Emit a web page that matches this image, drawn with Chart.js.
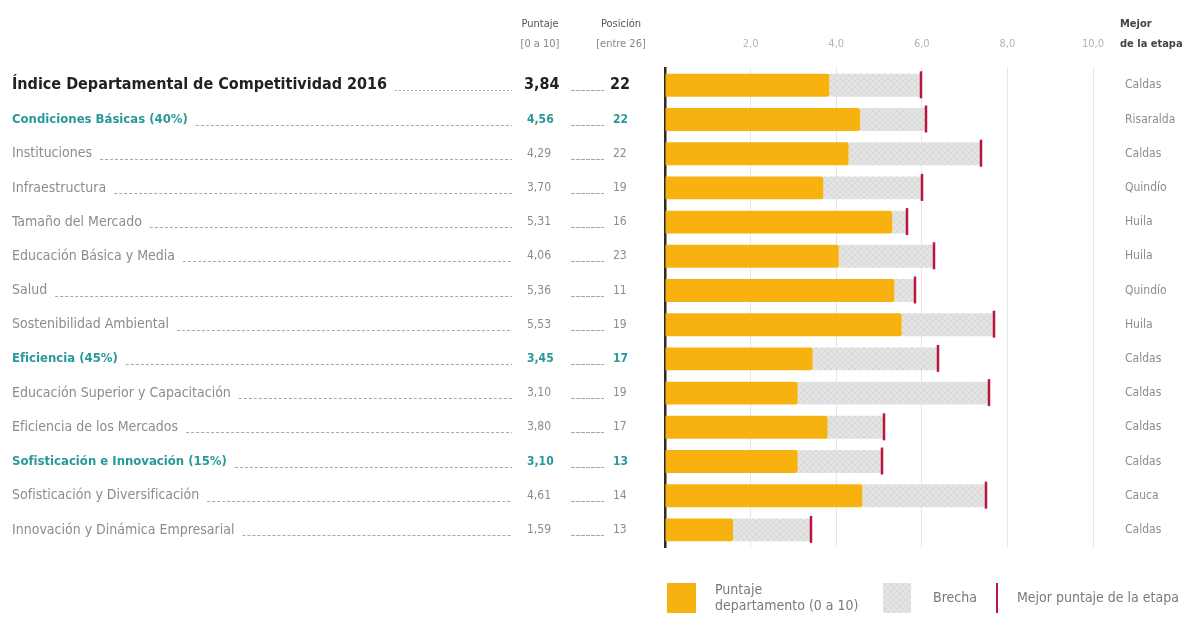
<!DOCTYPE html>
<html lang="es">
<head>
<meta charset="utf-8">
<title>Índice Departamental de Competitividad 2016</title>
<script src="https://cdn.jsdelivr.net/npm/chart.js@4/dist/chart.umd.min.js"></script>
<style>
	html, body { margin: 0; padding: 0; background: #fff; }
	#wrap { position: relative; width: 1198px; height: 619px; }
</style>
</head>
<body>
<div id="wrap"><canvas id="idc-chart"></canvas></div>
<script>
'use strict';

// Datos
const categorias = [
	'Índice Departamental de Competitividad 2016',
	'Condiciones Básicas (40%)',
	'Instituciones',
	'Infraestructura',
	'Tamaño del Mercado',
	'Educación Básica y Media',
	'Salud',
	'Sostenibilidad Ambiental',
	'Eficiencia (45%)',
	'Educación Superior y Capacitación',
	'Eficiencia de los Mercados',
	'Sofisticación e Innovación (15%)',
	'Sofisticación y Diversificación',
	'Innovación y Dinámica Empresarial'
];
// 0 = indice general, 1 = pilar, 2 = subpilar
const nivel = [0, 1, 2, 2, 2, 2, 2, 2, 1, 2, 2, 1, 2, 2];
const puntaje = [3.84, 4.56, 4.29, 3.70, 5.31, 4.06, 5.36, 5.53, 3.45, 3.10, 3.80, 3.10, 4.61, 1.59];
const posicion = [22, 22, 22, 19, 16, 23, 11, 19, 17, 19, 17, 13, 14, 13];
const mejorPuntaje = [5.98, 6.10, 7.38, 6.00, 5.65, 6.28, 5.84, 7.69, 6.38, 7.57, 5.12, 5.07, 7.50, 3.41];
const mejorDepto = ['Caldas', 'Risaralda', 'Caldas', 'Quindío', 'Huila', 'Huila', 'Quindío', 'Huila', 'Caldas', 'Caldas', 'Caldas', 'Caldas', 'Cauca', 'Caldas'];
const tickLabels = ['', '2,0', '4,0', '6,0', '8,0', '10,0'];

const FONT = '"DejaVu Sans Condensed", "Liberation Sans Narrow", "DejaVu Sans", sans-serif';
const NARANJA = '#f8b20f';
const TEAL = '#27999a';
const GRIS = '#8c8c8c';
const ROJO = '#b8163c';

const brecha = mejorPuntaje.map(function(v, i){ return +(v - puntaje[i]).toFixed(2); });

// textured grey for the gap bars
function makePattern() {
	const c = document.createElement('canvas');
	c.width = 6; c.height = 6;
	const g = c.getContext('2d');
	g.fillStyle = '#e4e4e4';
	g.fillRect(0, 0, 6, 6);
	g.strokeStyle = '#d8d8d8';
	g.lineWidth = 1;
	g.beginPath();
	g.moveTo(0, 6); g.lineTo(6, 0);
	g.moveTo(0, 0); g.lineTo(6, 6);
	g.stroke();
	return g.createPattern(c, 'repeat');
}
const patronBrecha = makePattern();

function fmt(v) { return v.toFixed(2).replace('.', ','); }

function leader(ctx, x1, x2, y, dash) {
	if (x2 <= x1) return;
	ctx.save();
	ctx.strokeStyle = '#a8a8a8';
	ctx.lineWidth = 1;
	ctx.setLineDash(dash);
	ctx.beginPath();
	ctx.moveTo(x1, y + 0.5);
	ctx.lineTo(x2, y + 0.5);
	ctx.stroke();
	ctx.restore();
}

// Text columns, markers and legend drawn around the chart area
const textosPlugin = {
	id: 'textos',
	afterDatasetsDraw: function(chart) {
		const ctx = chart.ctx;
		const x = chart.scales.x;
		const y = chart.scales.y;
		ctx.save();
		ctx.strokeStyle = ROJO;
		ctx.lineWidth = 2.5;
		mejorPuntaje.forEach(function(v, i){
			const px = Math.round(x.getPixelForValue(v));
			const py = y.getPixelForValue(i);
			ctx.beginPath();
			ctx.moveTo(px, py - 14);
			ctx.lineTo(px, py + 13);
			ctx.stroke();
		});
		ctx.restore();
	},
	afterDraw: function(chart) {
		const ctx = chart.ctx;
		const y = chart.scales.y;
		ctx.save();
		ctx.textBaseline = 'middle';

		// headers
		ctx.textAlign = 'center';
		ctx.fillStyle = '#555';
		ctx.font = '11px ' + FONT;
		ctx.fillText('Puntaje', 540, 24);
		ctx.fillText('Posición', 621, 24);
		ctx.fillStyle = '#888';
		ctx.fillText('[0 a 10]', 540, 44);
		ctx.fillText('[entre 26]', 621, 44);
		ctx.textAlign = 'left';
		ctx.fillStyle = '#444';
		ctx.font = 'bold 11px ' + FONT;
		ctx.fillText('Mejor', 1120, 24);
		ctx.fillText('de la etapa', 1120, 44);

		// rows
		categorias.forEach(function(cat, i){
			const py = y.getPixelForValue(i);
			let font, numFont, color;
			if (nivel[i] === 0) { font = numFont = 'bold 16px ' + FONT; color = '#222'; }
			else if (nivel[i] === 1) { font = 'bold 13px ' + FONT; numFont = 'bold 12px ' + FONT; color = TEAL; }
			else { font = '14px ' + FONT; numFont = '12px ' + FONT; color = GRIS; }
			ctx.font = font;
			ctx.fillStyle = color;
			ctx.textAlign = 'left';
			ctx.fillText(cat, 12, py);
			const w = ctx.measureText(cat).width;
			leader(ctx, 12 + w + 8, 512, Math.round(py + 5), nivel[i] === 0 ? [2, 2] : [3, 2]);
			ctx.font = numFont;
			ctx.fillText(fmt(puntaje[i]), nivel[i] === 0 ? 524 : 527, py);
			leader(ctx, 571, 604, Math.round(py + 5), [4, 1]);
			ctx.fillText(String(posicion[i]), nivel[i] === 0 ? 610 : 613, py);

			ctx.font = '12px ' + FONT;
			ctx.fillStyle = GRIS;
			ctx.fillText(mejorDepto[i], 1125, py);
		});

		// legend
		ctx.fillStyle = NARANJA;
		ctx.fillRect(667, 583, 29, 30);
		ctx.fillStyle = patronBrecha;
		ctx.fillRect(883, 583, 28, 30);
		ctx.strokeStyle = ROJO;
		ctx.lineWidth = 2;
		ctx.beginPath();
		ctx.moveTo(997, 583);
		ctx.lineTo(997, 613);
		ctx.stroke();
		ctx.fillStyle = '#7a7a7a';
		ctx.font = '14px ' + FONT;
		ctx.fillText('Puntaje', 715, 590);
		ctx.fillText('departamento (0 a 10)', 715, 606);
		ctx.fillText('Brecha', 933, 598);
		ctx.fillText('Mejor puntaje de la etapa', 1017, 598);
		ctx.restore();
	}
};

function renderChart() {
	const ctx = document.getElementById('idc-chart').getContext('2d');
	return new Chart(ctx, {
		type: 'bar',
		data: {
			labels: categorias,
			datasets: [{
				label: 'Puntaje departamento (0 a 10)',
				data: puntaje,
				backgroundColor: NARANJA,
				borderRadius: { topRight: 2, bottomRight: 2 },
				borderSkipped: false
			}, {
				label: 'Brecha',
				data: brecha,
				backgroundColor: patronBrecha
			}]
		},
		options: {
			indexAxis: 'y',
			responsive: true,
			maintainAspectRatio: false,
			animation: false,
			devicePixelRatio: 1,
			layout: { padding: { left: 665, right: 105, top: 21, bottom: 72 } },
			datasets: { bar: { categoryPercentage: 0.67, barPercentage: 1 } },
			plugins: {
				legend: { display: false },
				tooltip: { enabled: false }
			},
			scales: {
				x: {
					position: 'top',
					stacked: true,
					min: 0,
					max: 10,
					border: { display: false },
					grid: { color: '#e6e6e6', drawTicks: false },
					ticks: {
						stepSize: 2,
						padding: 17,
						color: '#b4b4b4',
						font: { family: FONT, size: 11 },
						callback: function(value, index){ return tickLabels[index]; }
					}
				},
				y: {
					stacked: true,
					border: { display: true, color: '#2e2a22', width: 2.5 },
					grid: { display: false, drawTicks: false },
					ticks: { display: false }
				}
			}
		},
		plugins: [textosPlugin]
	});
}

renderChart();
</script>
</body>
</html>
